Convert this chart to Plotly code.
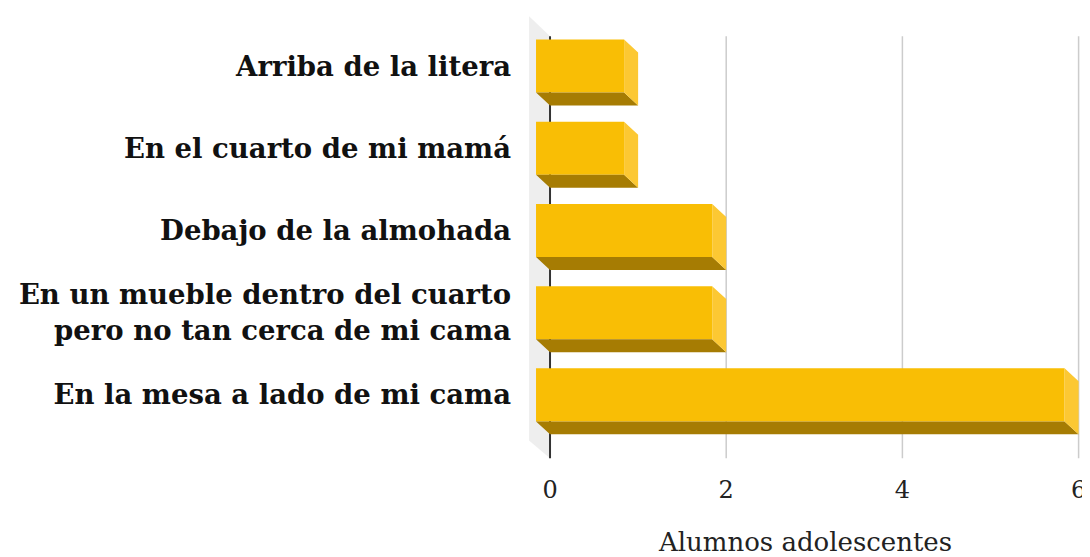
import plotly.graph_objects as go

categories = [
    "Arriba de la litera",
    "En el cuarto de mi mamá",
    "Debajo de la almohada",
    "En un mueble dentro del cuarto<br>pero no tan cerca de mi cama",
    "En la mesa a lado de mi cama",
]
values = [1, 1, 2, 2, 6]
x_ticks = [0, 2, 4, 6]
x_title = "Alumnos adolescentes"

# fake 3d look: depth offsets in data units
DX = 0.159
DY = 0.158
H = 0.645
WALL_X = -0.238

FRONT = "#F9BE05"
BOTTOM = "#A67C03"
SIDE = "#FCC833"
FONT = "DejaVu Serif"

n = len(categories)
pos = [n - 1 - i for i in range(n)]

y_top_back = 4.362
y_bot_back = -0.772

fig = go.Figure()

# bottom and side faces
bx, by, sx, sy = [], [], [], []
for v, p in zip(values, pos):
    lo = p - H / 2
    hi = p + H / 2
    bx += [-DX, v - DX, v, 0, -DX, None]
    by += [lo, lo, lo - DY, lo - DY, lo, None]
    sx += [v - DX, v, v, v - DX, v - DX, None]
    sy += [hi, hi - DY, lo - DY, lo, hi, None]

# front faces
fig.add_trace(go.Bar(
    x=values, y=pos, base=-DX, width=H, orientation="h",
    marker=dict(color=FRONT, line=dict(width=0)),
))
fig.add_trace(go.Scatter(x=bx, y=by, fill="toself", fillcolor=BOTTOM,
                         mode="none", hoverinfo="skip"))
fig.add_trace(go.Scatter(x=sx, y=sy, fill="toself", fillcolor=SIDE,
                         mode="none", hoverinfo="skip"))

# wall + gridlines go under the bars
shapes = [dict(
    type="path", layer="below", xref="x", yref="y",
    path=f"M {WALL_X},4.605 L 0,{y_top_back} L 0,{y_bot_back} L {WALL_X},-0.554 Z",
    fillcolor="#EEEEEE", line=dict(width=0),
)]
for t in x_ticks:
    shapes.append(dict(
        type="line", layer="below", xref="x", yref="y",
        x0=t, x1=t, y0=y_bot_back, y1=y_top_back,
        line=dict(color="#333333" if t == 0 else "#CCCCCC", width=2 if t == 0 else 1.5),
    ))

# page body has an 8px margin, so the figure is sized to fit inside it
fig.update_layout(
    width=1082, height=549,
    margin=dict(l=520, r=7, t=7, b=98),
    paper_bgcolor="white", plot_bgcolor="white",
    showlegend=False,
    shapes=shapes,
    font=dict(family=FONT, color="#222222"),
    xaxis=dict(
        range=[-0.25, 6.05], showgrid=False, zeroline=False, showline=False,
        automargin=False,
        tickvals=x_ticks, ticks="", ticklabelstandoff=14,
        tickfont=dict(size=24, color="#222222", family=FONT),
        title=dict(text=x_title, standoff=31,
                   font=dict(size=26, color="#222222", family=FONT)),
    ),
    yaxis=dict(
        range=[-0.78, 4.62], showgrid=False, zeroline=False, showline=False,
        automargin=False,
        tickvals=pos, ticktext=categories, ticks="", ticklabelstandoff=16,
        tickfont=dict(size=27.5, color="#111111", family=FONT, weight="bold"),
    ),
)

fig.write_html("out.html")
